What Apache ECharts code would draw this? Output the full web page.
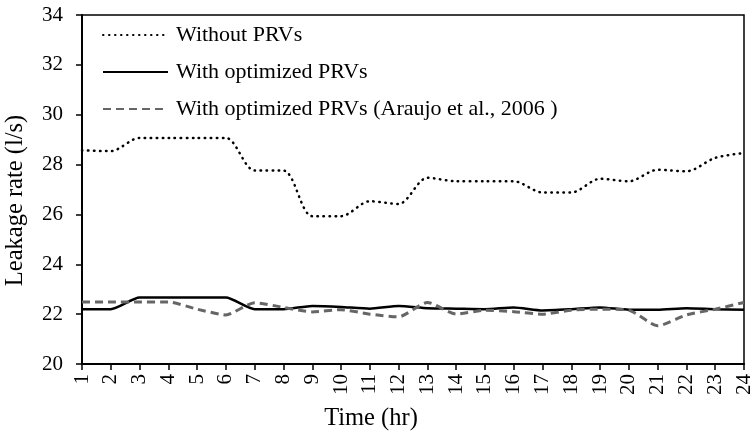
<!DOCTYPE html>
<html>
<head>
<meta charset="utf-8">
<script src="https://cdn.jsdelivr.net/npm/echarts@6/dist/echarts.min.js"></script>
<style>
  html, body { margin: 0; padding: 0; background: #fff; }
  #chart { width: 751px; height: 435px; }
</style>
</head>
<body>
<div id="chart"></div>
<script>
  // hours 1..24
  var hours = ['1', '2', '3', '4', '5', '6', '7', '8', '9', '10', '11', '12',
    '13', '14', '15', '16', '17', '18', '19', '20', '21', '22', '23', '24'];
  var withoutPRV = [28.57, 28.54, 29.07, 29.07, 29.07, 29.07, 27.76, 27.76, 25.93, 25.93, 26.53, 26.42,
    27.47, 27.33, 27.33, 27.33, 26.88, 26.88, 27.43, 27.33, 27.79, 27.73, 28.27, 28.46];
  var optimizedPRV = [22.2, 22.2, 22.67, 22.67, 22.67, 22.67, 22.2, 22.2, 22.33, 22.29, 22.22, 22.33,
    22.24, 22.22, 22.2, 22.27, 22.15, 22.2, 22.27, 22.18, 22.18, 22.24, 22.2, 22.18];
  var araujoPRV = [22.49, 22.49, 22.49, 22.49, 22.2, 21.97, 22.46, 22.27, 22.09, 22.18, 22.0, 21.89,
    22.47, 22.0, 22.16, 22.1, 22.0, 22.16, 22.2, 22.16, 21.53, 21.97, 22.2, 22.47];
  var yTicks = {min: 20, max: 34, interval: 2};

  var font = "'Liberation Serif', 'Times New Roman', serif";
  var chart = echarts.init(document.getElementById('chart'));

  var option = {
    animation: false,
    backgroundColor: '#fff',
    grid: {
      left: 82, right: 7, top: 15, bottom: 71,
      outerBoundsMode: 'none',
      containLabel: false,
      show: true, borderColor: '#000', borderWidth: 1.5, backgroundColor: 'transparent'
    },
    legend: {
      orient: 'vertical',
      left: 97, top: 19,
      itemWidth: 65, itemHeight: 14, itemGap: 15,
      itemStyle: {opacity: 0},
      textStyle: {fontFamily: font, fontSize: 22, color: '#000', padding: [0, 0, 0, 3]},
      data: ['Without PRVs', 'With optimized PRVs', 'With optimized PRVs (Araujo et al., 2006 )']
    },
    xAxis: {
      type: 'category',
      data: hours,
      boundaryGap: false,
      name: 'Time (hr)',
      nameLocation: 'middle',
      nameGap: 42,
      nameTextStyle: {fontFamily: font, fontSize: 24.5, color: '#000', padding: [0, 84, 0, 0]},
      axisLine: {lineStyle: {color: '#000', width: 2}},
      axisTick: {show: true, length: 6, lineStyle: {color: '#000', width: 1.5}, interval: 0},
      axisLabel: {rotate: 90, interval: 0, fontFamily: font, fontSize: 21, color: '#000', margin: 10},
      splitLine: {show: false}
    },
    yAxis: {
      type: 'value',
      min: yTicks.min, max: yTicks.max, interval: yTicks.interval,
      name: 'Leakage rate (l/s)',
      nameLocation: 'middle',
      nameGap: 54,
      nameTextStyle: {fontFamily: font, fontSize: 24.5, color: '#000', padding: [0, 22, 0, 0]},
      axisLine: {show: true, lineStyle: {color: '#000', width: 2}},
      axisTick: {show: true, length: 6, lineStyle: {color: '#000', width: 1.5}},
      axisLabel: {fontFamily: font, fontSize: 21, color: '#000', margin: 19},
      splitLine: {show: false}
    },
    series: [
      {
        name: 'Without PRVs',
        type: 'line',
        data: withoutPRV,
        symbol: 'none',
        smooth: 0.3,
        lineStyle: {color: '#000', width: 2.5, type: [0.5, 5.5], cap: 'round'},
        itemStyle: {color: '#000'}
      },
      {
        name: 'With optimized PRVs',
        type: 'line',
        data: optimizedPRV,
        symbol: 'none',
        smooth: 0.2,
        lineStyle: {color: '#000', width: 2.5, type: 'solid'},
        itemStyle: {color: '#000'}
      },
      {
        name: 'With optimized PRVs (Araujo et al., 2006 )',
        type: 'line',
        data: araujoPRV,
        symbol: 'none',
        smooth: 0.2,
        lineStyle: {color: '#666', width: 3, type: [8, 5]},
        itemStyle: {color: '#666'}
      }
    ]
  };

  chart.setOption(option);
  window.addEventListener('resize', function () {
    chart.resize();
  });
</script>
</body>
</html>
